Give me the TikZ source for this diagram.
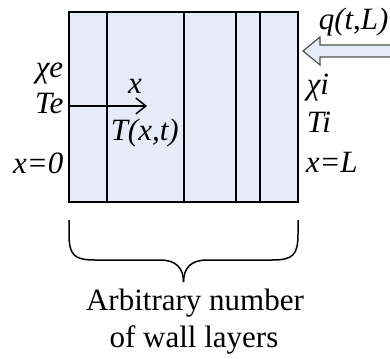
\documentclass[tikz,border=0pt]{standalone}
\usepackage{fontspec}
\setmainfont{Liberation Serif}
\usetikzlibrary{arrows.meta}
\definecolor{wallfill}{RGB}{230,236,247}
\definecolor{arrowgray}{RGB}{80,80,80}

\begin{document}
\begin{tikzpicture}[x=0.5pt, y=-0.5pt, line width=0.75pt,
    lbl/.style={font=\fontsize{15.5}{18.5}\selectfont\itshape, inner sep=0pt},
    txt/.style={font=\fontsize{15.5}{18.5}\selectfont, inner sep=0pt}]
    \useasboundingbox (0,0) rectangle (390,358);

    % Wall layers
    \fill[wallfill] (69,12) rectangle (298,202);
    \foreach \xl in {107,184,236,260} {
        \draw (\xl,12) -- (\xl,202);
    }
    \draw (69,12) rectangle (298,202);

    % Axis
    \coordinate (origin) at (69,106);
    \coordinate (axisend) at (147,106);
    \draw[-{Straight Barb[length=5pt,width=8pt]}] (origin) -- (axisend);
    \node[lbl, anchor=base] (xaxis) at (135,93) {x};
    \node[lbl, anchor=base west] (Txt) at (110,140) {T(x,t)};

    % Outside surface
    \node[lbl, anchor=base east] (chie) at (64,77) {χe};
    \node[lbl, anchor=base east] (Te) at (64,113) {Te};
    \node[lbl, anchor=base east] (xzero) at (64,173) {x=0};

    % Inside surface
    \node[lbl, anchor=base west] (chii) at (306,95) {χi};
    \node[lbl, anchor=base west] (Ti) at (306,133) {Ti};
    \node[lbl, anchor=base west] (xL) at (305,172) {x=L};

    % Heat flux
    \node[lbl, anchor=base west] (flux) at (318,30) {q(t,L)};
    \draw[arrowgray, fill=wallfill, line width=0.6pt, line join=miter]
        (391,45) -- (320,45) -- (320,37) -- (303,51) -- (320,65) -- (320,57) -- (391,57);

    % Brace
    \coordinate (braceL) at (69,220);
    \coordinate (braceR) at (298,220);
    \coordinate (braceTip) at (183.5,282);
    \draw (braceL) -- (69,234) .. controls (69,255) and (74,260) .. (95,260)
        -- (160,260) .. controls (176,260) and (183.5,268) .. (braceTip);
    \draw (braceR) -- (298,234) .. controls (298,255) and (293,260) .. (272,260)
        -- (207,260) .. controls (191,260) and (183.5,268) .. (braceTip);
    \node[txt, anchor=base] (cap1) at (195,310) {Arbitrary number};
    \node[txt, anchor=base] (cap2) at (194,347) {of wall layers};
\end{tikzpicture}
\end{document}
